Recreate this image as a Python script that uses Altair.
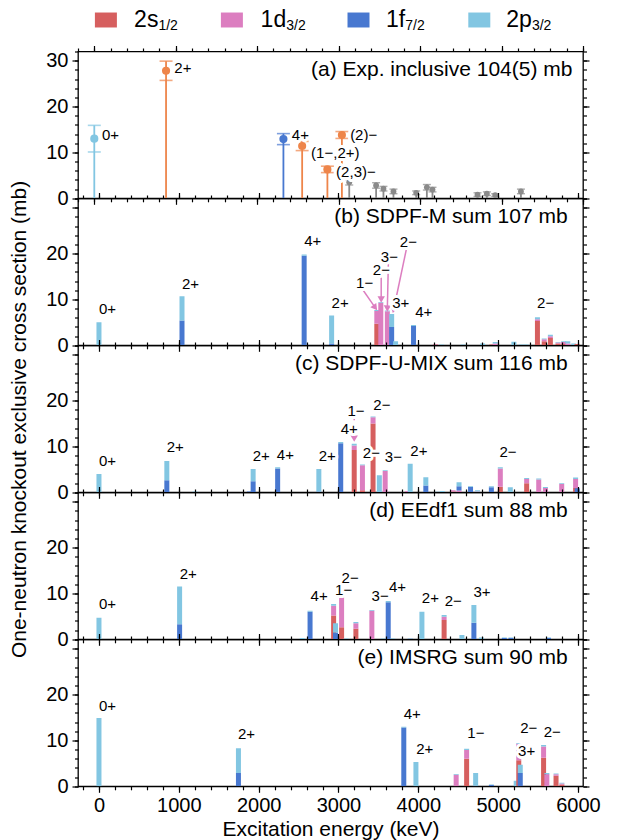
import altair as alt
import pandas as pd

FONT = "Liberation Sans"
PINK = "#DC7EC0"

ORB = ["2s1/2", "1d3/2", "1f7/2", "2p3/2"]
ORB_MAIN = ["2s", "1d", "1f", "2p"]
ORB_SUB = ["1/2", "3/2", "7/2", "3/2"]
ORB_COLORS = ["#D65F5F", "#DC7EC0", "#4878D0", "#82C6E2"]

EXP_GROUPS = ["2p3/2", "assigned", "1f7/2", "unassigned"]
EXP_COLORS = ["#82C6E2", "#EE854A", "#4878D0", "#8A8A8A"]

# ---------------- (a) experiment ----------------
a_E = [0, 881, 2322, 2552, 2862, 3040, 3130, 3460, 3550, 3673, 3952, 4083, 4152, 4705, 4820, 4922, 5238]
a_sig = [13.0, 27.8, 12.9, 11.4, 6.3, 13.8, 3.5, 2.8, 2.1, 1.5, 1.2, 2.4, 1.9, 0.8, 1.0, 0.7, 1.5]
a_err = [2.9, 2.1, 1.2, 1.0, 0.7, 0.75, 0.6, 0.6, 0.5, 0.5, 0.4, 0.6, 0.5, 0.4, 0.4, 0.3, 0.5]
a_grp = ["2p3/2", "assigned", "1f7/2", "assigned", "assigned", "assigned"] + ["unassigned"] * 11
a_lab_t = ["0+", "2+", "4+", "(1−,2+)", "(2,3)−", "(2)−"]
a_lab_E = [95, 983, 2425, 2662, 2969, 3141]
a_lab_y = [13.9, 28.5, 13.9, 9.9, 5.8, 13.8]

# ---------------- (b) SDPF-M ----------------
b_E = [0, 1040, 2570, 2914, 3480, 3530, 3612, 3666, 3715, 3940, 4214, 4290, 4560, 4805, 4920,
       4963, 5197, 5290, 5350, 5492, 5577, 5654, 5750, 5820, 5872, 5946, 5988]
b_s = [0, 0, 0, 0, 4.7, 0, 0, 0, 0, 0, 0.15, 0, 0, 0, 0.2,
       0, 0, 0, 0, 5.3, 0.9, 1.6, 0.4, 0.3, 0, 0, 0.3]
b_d = [0, 0, 0, 0, 2.8, 9.3, 7.4, 0, 0, 0, 0.15, 0, 0, 0, 0,
       0.4, 0, 0, 0, 0.4, 0.4, 0.4, 0.2, 0.4, 0.4, 0, 0]
b_f = [0, 5.4, 19.5, 0.4, 0, 0, 0, 4.0, 0, 4.2, 0, 0, 0, 0, 0,
       0, 0, 0, 0, 0, 0, 0, 0, 0, 0, 0, 0]
b_p = [5.0, 5.3, 0.3, 6.1, 0.2, 0.15, 0.2, 2.8, 0.9, 0.2, 0, 0.2, 0.2, 0.4, 0,
       0.3, 0.8, 0.2, 0.2, 0.4, 0.2, 0.3, 0.1, 0.2, 0.5, 0.4, 0]
b_lab_t = ["0+", "2+", "4+", "2+", "1−", "2−", "3−", "2−", "3+", "4+", "2−"]
b_lab_E = [0, 1040, 2570, 2914, 3220, 3430, 3530, 3768, 3673, 3960, 5488]
b_lab_y = [7.9, 13.4, 22.8, 9.3, 13.5, 16.4, 19.3, 22.6, 9.2, 7.3, 9.2]
b_arr_x = [3305, 3535, 3625, 3857]
b_arr_y = [12.1, 15.0, 18.2, 21.5]
b_arr_x2 = [3460, 3535, 3612, 3690]
b_arr_y2 = [8.2, 10.0, 8.0, 7.7]
b_arr_ang = [323, 0, 1, 13]

# ---------------- (c) SDPF-U-MIX ----------------
c_E = [0, 850, 1204, 1884, 1931, 2238, 2754, 3028, 3197, 3300, 3433, 3512, 3585, 3866, 3898,
       4094, 4230, 4300, 4436, 4510, 4654, 4742, 4915, 5027, 5152, 5357, 5508, 5592, 5796, 5970, 5990]
c_s = [0, 0, 0, 0, 0, 0, 0, 0, 9.2, 0.45, 15.0, 0, 0, 0, 0,
       0, 0, 0, 0.2, 0, 0, 0, 0, 1.2, 0, 2.0, 0, 0, 0, 0.95, 0]
c_d = [0, 0, 0, 0, 0, 0, 0, 0, 1.0, 5.45, 1.35, 0, 4.65, 0.3, 0,
       0, 0, 0, 0.25, 0.4, 0, 0.2, 0, 4.0, 0, 0.9, 2.8, 0.95, 1.8, 1.95, 0]
c_f = [0, 2.6, 0, 0.15, 2.4, 5.2, 0.2, 10.7, 0, 0, 0, 0, 0, 0, 0,
       1.5, 0, 0, 0, 0.9, 1.15, 0, 1.1, 0, 0, 0, 0, 0, 0, 0, 0.9]
c_p = [4.0, 4.2, 0.2, 0, 2.7, 0.25, 4.9, 0.25, 0.4, 0.15, 0.15, 3.7, 0.15, 0, 6.2,
       1.8, 0.1, 0.3, 0, 0.9, 0.15, 0.25, 0.2, 0.25, 1.1, 0.2, 0.2, 0.2, 0.2, 0.3, 0]
c_lab_t = ["0+", "2+", "2+", "4+", "2+", "4+", "1−", "2−", "2−", "3−", "2+", "2−"]
c_lab_E = [0, 848, 1925, 2228, 2752, 3027, 3113, 3437, 3305, 3580, 3900, 5017]
c_lab_y = [6.9, 9.9, 8.0, 8.2, 8.0, 13.7, 17.7, 19.1, 8.6, 7.7, 8.9, 8.7]
c_arr_x = [3197]
c_arr_y = [16.6]
c_arr_x2 = [3197]
c_arr_y2 = [11.7]
c_arr_ang = [0]

# ---------------- (d) EEdf1 ----------------
d_E = [0, 1010, 2546, 2644, 2939, 2963, 3039, 3095, 3218, 3418, 3560, 3623, 3680, 3900, 4045,
       4323, 4546, 4696, 4790, 5077, 5160, 5630]
d_s = [0, 0, 0, 0, 5.2, 0, 2.6, 0, 2.3, 0, 0, 0, 0, 0, 0,
       4.2, 0, 0, 0, 0, 0, 0]
d_d = [0, 0, 0, 0, 2.1, 0, 7.2, 0, 1.2, 6.2, 0, 0, 0, 0, 0,
       0.7, 0, 0, 0, 0, 0, 0]
d_f = [0, 3.3, 0, 6.0, 0, 1.5, 0, 0, 0, 0, 0, 8.1, 0, 0.1, 0,
       0, 0, 3.6, 0, 0.3, 0.3, 0.3]
d_p = [4.7, 8.2, 0.3, 0.2, 0.4, 2.0, 0, 0.15, 0.25, 0.2, 0.15, 0.25, 0.15, 0.1, 6.0,
       0.4, 0.95, 3.9, 0.4, 0.1, 0.1, 0.1]
d_lab_t = ["0+", "2+", "4+", "1−", "2−", "3−", "4+", "2+", "2−", "3+"]
d_lab_E = [0, 1012, 2650, 2957, 3039, 3415, 3633, 4044, 4330, 4690]
d_lab_y = [7.8, 14.2, 9.4, 10.7, 13.3, 9.4, 11.4, 8.9, 8.3, 10.3]

# ---------------- (e) IMSRG ----------------
e_E = [0, 1747, 3818, 3970, 4474, 4605, 4718, 4915, 5226, 5258, 5277, 5569, 5610, 5725, 5798]
e_s = [0, 0, 0, 0, 0, 6.0, 0, 0, 0, 5.7, 0, 6.2, 0, 2.3, 0.4]
e_d = [0, 0, 0, 0, 2.5, 1.9, 0, 0, 0, 3.6, 0, 2.5, 2.6, 0.3, 0.2]
e_f = [0, 2.9, 12.8, 0, 0, 0, 0.1, 0.3, 0, 0, 2.9, 0, 0.1, 0, 0]
e_p = [14.9, 5.4, 0.2, 5.3, 0.2, 0.3, 2.8, 0.1, 1.2, 0.15, 1.8, 0.3, 0.2, 0.2, 0.2]
e_lab_t = ["0+", "2+", "4+", "2+", "1−", "2−", "3+", "2−"]
e_lab_E = [0, 1740, 3817, 3973, 4614, 5276, 5250, 5570]
e_lab_y = [17.6, 11.3, 15.8, 8.2, 11.6, 12.6, 7.6, 11.9]

TITLES = ["(a) Exp. inclusive 104(5) mb", "(b) SDPF-M sum 107 mb", "(c) SDPF-U-MIX sum 116 mb",
          "(d) EEdf1 sum 88 mb", "(e) IMSRG sum 90 mb"]
TITLE_E = 5870
TITLE_Y = 28.0

XMAJ = [0, 1000, 2000, 3000, 4000, 5000, 6000]
XMIN = list(range(-200, 6001, 200))
YMAJ = [0, 10, 20, 30]
YMIN = list(range(0, 33, 2))
XDOM = [-200, 6000]
YDOM = [0, 32]
W, H = 505, 146.8
YTITLE = "One-neutron knockout exclusive cross section (mb)"


def xs():
    return alt.Scale(domain=XDOM, nice=False, zero=False)


def ys():
    return alt.Scale(domain=YDOM, nice=False, zero=False)


def mk_axis(orient, values, size, labels=False, **kw):
    return alt.Axis(orient=orient, values=values, tickSize=size, labels=labels,
                    domain=False, grid=False, ticks=True, tickColor="black",
                    tickWidth=1.2, **kw)


def frame_layers(show_x=False, ytitle=False, hide30=True):
    d = pd.DataFrame({"E": [0.0], "v": [0.0]})
    base = alt.Chart(d).mark_point(opacity=0)
    ykw = {"labelPadding": 4}
    if hide30:
        ykw["labelExpr"] = "datum.value >= 30 ? '' : datum.label"
    if ytitle:
        ykw["titlePadding"] = 16
    xkw = {}
    if show_x:
        xkw = {"labelFlush": False, "labelPadding": 3, "titlePadding": 3, "format": "d"}
    l1 = base.encode(
        x=alt.X("E:Q", scale=xs(), axis=mk_axis("bottom", XMAJ, 6, show_x, **xkw),
                title="Excitation energy (keV)" if show_x else None),
        y=alt.Y("v:Q", scale=ys(), axis=mk_axis("left", YMAJ, 6, True, **ykw),
                title=YTITLE if ytitle else None))
    l2 = base.encode(
        x=alt.X("E:Q", scale=xs(), axis=mk_axis("bottom", XMIN, 3.5), title=None),
        y=alt.Y("v:Q", scale=ys(), axis=mk_axis("left", YMIN, 3.5), title=None))
    l3 = base.encode(
        x=alt.X("E:Q", scale=xs(), axis=mk_axis("top", XMAJ, 6), title=None),
        y=alt.Y("v:Q", scale=ys(), axis=mk_axis("right", YMAJ, 6), title=None))
    l4 = base.encode(
        x=alt.X("E:Q", scale=xs(), axis=mk_axis("top", XMIN, 3.5), title=None),
        y=alt.Y("v:Q", scale=ys(), axis=mk_axis("right", YMIN, 3.5), title=None))
    return [l1, l2, l3, l4]


def label_layers(t, E, y):
    df = pd.DataFrame({"E": E, "v": y, "t": t})
    enc = dict(x=alt.X("E:Q", scale=xs(), axis=None),
               y=alt.Y("v:Q", scale=ys(), axis=None), text="t:N")
    halo = alt.Chart(df).mark_text(align="left", baseline="middle", fontSize=15, font=FONT,
                                   stroke="white", strokeWidth=6, strokeJoin="round",
                                   fill="white").encode(**enc)
    txt = alt.Chart(df).mark_text(align="left", baseline="middle", fontSize=15, font=FONT,
                                  color="black").encode(**enc)
    return [halo, txt]


def title_layer(text):
    df = pd.DataFrame({"E": [TITLE_E], "v": [TITLE_Y], "t": [text]})
    return alt.Chart(df).mark_text(align="right", baseline="middle", fontSize=21, font=FONT,
                                   color="black").encode(
        x=alt.X("E:Q", scale=xs(), axis=None),
        y=alt.Y("v:Q", scale=ys(), axis=None), text="t:N")


def arrow_layers(x, y, x2, y2, ang, dash=False):
    df = pd.DataFrame({"x": x, "y": y, "x2": x2, "y2": y2, "ang": ang})
    kw = {"color": PINK, "strokeWidth": 1.5}
    if dash:
        kw["strokeDash"] = [4, 3]
    line = alt.Chart(df).mark_rule(**kw).encode(
        x=alt.X("x:Q", scale=xs(), axis=None), y=alt.Y("y:Q", scale=ys(), axis=None),
        x2="x2:Q", y2="y2:Q")
    head = alt.Chart(df).mark_point(shape="triangle-down", filled=True, size=55, color=PINK,
                                    opacity=1).encode(
        x=alt.X("x2:Q", scale=xs(), axis=None), y=alt.Y("y2:Q", scale=ys(), axis=None),
        angle=alt.Angle("ang:Q", scale=None))
    return [line, head]


def panel_props(ch):
    return ch.resolve_axis(x="independent", y="independent").properties(
        width=W, height=H, view=alt.ViewBackground(stroke="black", strokeWidth=1.3))


def bar_panel(E, s, d, f, p, lt, lE, ly, title, show_x=False, ytitle=False, extra=()):
    rows = []
    for i, e in enumerate(E):
        for k, vals in enumerate((s, d, f, p)):
            if vals[i] > 0:
                rows.append({"E": e, "orb": ORB[k], "k": k, "v": vals[i], "bar": i})
    df = pd.DataFrame(rows)
    bars = alt.Chart(df).mark_bar(size=5, clip=True).encode(
        x=alt.X("E:Q", scale=xs(), axis=None),
        y=alt.Y("v:Q", stack="zero", scale=ys(), axis=None),
        color=alt.Color("orb:N", scale=alt.Scale(domain=ORB, range=ORB_COLORS), legend=None),
        order=alt.Order("k:Q"))
    layers = frame_layers(show_x, ytitle, True) + [bars] + list(extra) + \
        label_layers(lt, lE, ly) + [title_layer(title)]
    return panel_props(alt.layer(*layers))


def exp_panel():
    df = pd.DataFrame({"E": a_E, "sig": a_sig, "err": a_err, "grp": a_grp})
    df["lo"] = df["sig"] - df["err"]
    df["hi"] = df["sig"] + df["err"]
    col = alt.Color("grp:N", scale=alt.Scale(domain=EXP_GROUPS, range=EXP_COLORS), legend=None)
    X = alt.X("E:Q", scale=xs(), axis=None)
    base = alt.Chart(df)
    stems = base.mark_rule(strokeWidth=1.8).encode(
        x=X, y=alt.Y("hi:Q", scale=ys(), axis=None), y2=alt.datum(0), color=col)
    big = base.transform_filter(alt.datum.grp != "unassigned")
    small = base.transform_filter(alt.datum.grp == "unassigned")
    caps_big = big.transform_fold(["lo", "hi"], as_=["which", "yv"]).mark_tick(
        orient="horizontal", size=13, thickness=1.6).encode(
        x=X, y=alt.Y("yv:Q", scale=ys(), axis=None), color=col)
    caps_small = small.transform_fold(["lo", "hi"], as_=["which", "yv"]).mark_tick(
        orient="horizontal", size=8, thickness=1.4).encode(
        x=X, y=alt.Y("yv:Q", scale=ys(), axis=None), color=col)
    pts_big = big.mark_circle(size=66, opacity=1).encode(
        x=X, y=alt.Y("sig:Q", scale=ys(), axis=None), color=col)
    pts_small = small.mark_circle(size=34, opacity=1).encode(
        x=X, y=alt.Y("sig:Q", scale=ys(), axis=None), color=col)
    layers = frame_layers(False, False, False) + [stems, caps_big, caps_small, pts_big, pts_small] + \
        label_layers(a_lab_t, a_lab_E, a_lab_y) + [title_layer(TITLES[0])]
    return panel_props(alt.layer(*layers))


# ---------------- legend ----------------
LEG_SQ = [27.9, 153.9, 280.5, 401.3]
LEG_TX = [56.1, 182.6, 308.0, 428.3]
LEG_SB = [80.4, 208.2, 327.2, 453.9]
leg = pd.DataFrame({"i": [0, 1, 2, 3], "orb": ORB, "main": ORB_MAIN, "sub": ORB_SUB})
sq = alt.Chart(leg).mark_point(shape="M-1,-0.68L1,-0.68L1,0.68L-1,0.68Z", filled=True,
                               size=484, opacity=1).encode(
    x=alt.X("i:Q", scale=alt.Scale(domain=[0, 1, 2, 3], range=LEG_SQ), axis=None),
    color=alt.Color("orb:N", scale=alt.Scale(domain=ORB, range=ORB_COLORS), legend=None))
tx = alt.Chart(leg).mark_text(align="left", baseline="middle", fontSize=23, font=FONT,
                              color="black").encode(
    x=alt.X("i:Q", scale=alt.Scale(domain=[0, 1, 2, 3], range=LEG_TX), axis=None),
    text="main:N")
sb = alt.Chart(leg).mark_text(align="left", baseline="middle", dy=6, fontSize=14, font=FONT,
                              color="black").encode(
    x=alt.X("i:Q", scale=alt.Scale(domain=[0, 1, 2, 3], range=LEG_SB), axis=None),
    text="sub:N")
legend = alt.layer(sq, tx, sb).resolve_scale(x="independent").properties(
    width=W, height=38, view=alt.ViewBackground(stroke="transparent"))

pa = exp_panel()
pb = bar_panel(b_E, b_s, b_d, b_f, b_p, b_lab_t, b_lab_E, b_lab_y, TITLES[1],
               extra=arrow_layers(b_arr_x, b_arr_y, b_arr_x2, b_arr_y2, b_arr_ang))
pc = bar_panel(c_E, c_s, c_d, c_f, c_p, c_lab_t, c_lab_E, c_lab_y, TITLES[2], ytitle=True,
               extra=arrow_layers(c_arr_x, c_arr_y, c_arr_x2, c_arr_y2, c_arr_ang, dash=True))
pdd = bar_panel(d_E, d_s, d_d, d_f, d_p, d_lab_t, d_lab_E, d_lab_y, TITLES[3])
pe = bar_panel(e_E, e_s, e_d, e_f, e_p, e_lab_t, e_lab_E, e_lab_y, TITLES[4], show_x=True)

panels = alt.vconcat(pa, pb, pc, pdd, pe, spacing=0, bounds="flush").resolve_scale(
    x="independent", y="independent", color="independent")

chart = alt.vconcat(legend, panels, spacing=12.5, bounds="flush").resolve_scale(
    x="independent", y="independent", color="independent").properties(
    autosize=alt.AutoSizeParams(type="pad"),
    padding={"left": 8, "top": 0, "right": 10, "bottom": 5}
).configure_axis(
    labelFont=FONT, titleFont=FONT, labelFontSize=20, titleFontSize=21,
    labelColor="black", titleColor="black", titleFontWeight="normal"
)

chart.save("out.html", embed_options={"renderer": "svg", "actions": False})
